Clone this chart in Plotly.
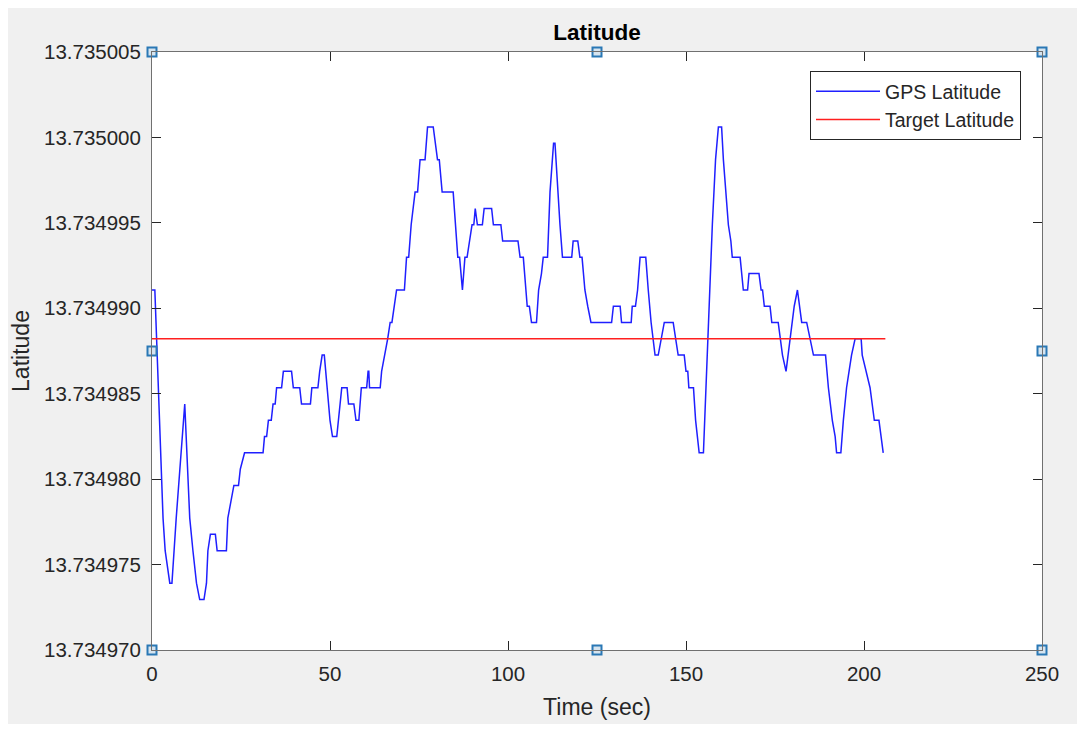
import plotly.graph_objects as go

# ---- data ----
time_sec = [0, 0.8, 3.1, 3.7, 5.0, 5.6, 6.2, 6.8, 9.2, 10.6, 11.5, 12.5, 13.4, 14.6, 15.3, 15.7, 16.4, 17.8, 18.3, 20.9,
            21.3, 22.1, 23.0, 24.3, 24.8, 26.0, 31.2, 31.6, 32.2, 32.7, 33.5, 34.0, 34.6, 35.0, 36.4, 36.9, 39.2, 39.7, 41.5, 42.0,
            44.5, 44.9, 46.6, 47.1, 47.8, 48.4, 50.0, 50.7, 51.9, 53.3, 54.8, 55.2, 56.7, 57.3, 58.1, 58.8, 60.3, 60.7, 60.9, 61.1,
            64.1, 64.5, 65.4, 66.2, 66.9, 67.4, 68.7, 70.9, 71.5, 72.1, 72.8, 73.9, 74.6, 75.3, 76.7, 77.4, 79.0, 79.7, 80.2, 80.7,
            81.5, 84.6, 85.9, 86.4, 87.2, 87.9, 88.5, 89.9, 90.4, 90.8, 91.4, 92.8, 93.3, 95.4, 95.9, 98.0, 98.5, 102.8, 103.4, 104.3,
            104.9, 105.4, 106.0, 106.6, 108.0, 108.6, 109.4, 109.9, 111.1, 111.8, 112.8, 113.2, 114.6, 115.3, 117.9, 118.3, 119.6, 120.2, 120.8, 121.6,
            122.4, 123.3, 129.1, 129.6, 131.5, 131.9, 134.6, 134.9, 135.8, 136.4, 137.1, 138.7, 139.4, 140.2, 141.3, 142.2, 143.9, 146.4, 147.1, 147.8,
            149.5, 150.0, 150.5, 150.8, 152.1, 152.7, 153.7, 154.9, 157.4, 158.3, 159.1, 160.0, 160.5, 161.9, 162.6, 163.0, 165.2, 166.1, 167.3, 167.7,
            170.5, 171.1, 171.5, 172.0, 173.6, 174.1, 175.9, 176.4, 177.1, 178.1, 178.7, 179.4, 180.4, 181.3, 181.8, 182.5, 183.9, 184.8, 185.8, 189.2,
            190.0, 191.1, 191.9, 192.3, 193.5, 194.2, 195.1, 195.8, 196.5, 197.5, 199.2, 199.5, 200.5, 201.7, 202.9, 204.2, 204.8, 205.4]

gps_lat = [13.73499107, 13.73499107, 13.73497772, 13.73497581, 13.73497391, 13.73497391, 13.73497581, 13.73497772, 13.73498440, 13.73497772,
           13.73497581, 13.73497391, 13.73497295, 13.73497295, 13.73497391, 13.73497581, 13.73497677, 13.73497677, 13.73497581, 13.73497581,
           13.73497772, 13.73497868, 13.73497963, 13.73497963, 13.73498058, 13.73498154, 13.73498154, 13.73498249, 13.73498249, 13.73498344,
           13.73498344, 13.73498440, 13.73498440, 13.73498535, 13.73498535, 13.73498631, 13.73498631, 13.73498535, 13.73498535, 13.73498440,
           13.73498440, 13.73498535, 13.73498535, 13.73498631, 13.73498726, 13.73498726, 13.73498344, 13.73498249, 13.73498249, 13.73498535,
           13.73498535, 13.73498440, 13.73498440, 13.73498344, 13.73498344, 13.73498535, 13.73498535, 13.73498631, 13.73498631, 13.73498535,
           13.73498535, 13.73498631, 13.73498726, 13.73498821, 13.73498917, 13.73498917, 13.73499107, 13.73499107, 13.73499298, 13.73499298,
           13.73499489, 13.73499680, 13.73499680, 13.73499870, 13.73499870, 13.73500061, 13.73500061, 13.73499966, 13.73499870, 13.73499870,
           13.73499680, 13.73499680, 13.73499298, 13.73499298, 13.73499107, 13.73499298, 13.73499298, 13.73499489, 13.73499489, 13.73499584,
           13.73499489, 13.73499489, 13.73499584, 13.73499584, 13.73499489, 13.73499489, 13.73499394, 13.73499394, 13.73499298, 13.73499298,
           13.73499107, 13.73499012, 13.73499012, 13.73498917, 13.73498917, 13.73499107, 13.73499203, 13.73499298, 13.73499298, 13.73499680,
           13.73499966, 13.73499966, 13.73499489, 13.73499298, 13.73499298, 13.73499394, 13.73499394, 13.73499298, 13.73499298, 13.73499107,
           13.73499012, 13.73498917, 13.73498917, 13.73499012, 13.73499012, 13.73498917, 13.73498917, 13.73499012, 13.73499012, 13.73499107,
           13.73499298, 13.73499298, 13.73499107, 13.73498917, 13.73498726, 13.73498726, 13.73498917, 13.73498917, 13.73498821, 13.73498726,
           13.73498726, 13.73498631, 13.73498631, 13.73498535, 13.73498535, 13.73498344, 13.73498154, 13.73498154, 13.73499489, 13.73499870,
           13.73500061, 13.73500061, 13.73499870, 13.73499489, 13.73499394, 13.73499298, 13.73499298, 13.73499107, 13.73499107, 13.73499203,
           13.73499203, 13.73499107, 13.73499107, 13.73499012, 13.73499012, 13.73498917, 13.73498917, 13.73498821, 13.73498726, 13.73498631,
           13.73498726, 13.73498821, 13.73499012, 13.73499107, 13.73499012, 13.73498917, 13.73498917, 13.73498821, 13.73498726, 13.73498726,
           13.73498535, 13.73498344, 13.73498249, 13.73498154, 13.73498154, 13.73498344, 13.73498535, 13.73498631, 13.73498726, 13.73498821,
           13.73498821, 13.73498726, 13.73498631, 13.73498535, 13.73498344, 13.73498344, 13.73498249, 13.73498154]

target_time = [0, 206]
target_lat = [13.73498821, 13.73498821]

x_ticks = [0, 50, 100, 150, 200, 250]
y_ticks = [13.734970, 13.734975, 13.734980, 13.734985, 13.734990, 13.734995, 13.735000, 13.735005]
x_range = [0, 250]
y_range = [13.734970, 13.735005]

FONT = "Liberation Sans, Arial, Helvetica, sans-serif"
DARK = "#262626"

fig = go.Figure()
fig.add_trace(go.Scatter(x=time_sec, y=gps_lat, mode="lines", name="GPS Latitude",
                         line=dict(color="#1f1fff", width=1.5)))
fig.add_trace(go.Scatter(x=target_time, y=target_lat, mode="lines", name="Target Latitude",
                         line=dict(color="#ff1f1f", width=1.5)))

# selection handles (corners and edge midpoints of the axes box)
xm = (x_range[0] + x_range[1]) / 2
ym = (y_range[0] + y_range[1]) / 2
hx = [x_range[0], xm, x_range[1], x_range[0], x_range[1], x_range[0], xm, x_range[1]]
hy = [y_range[1], y_range[1], y_range[1], ym, ym, y_range[0], y_range[0], y_range[0]]
fig.add_trace(go.Scatter(x=hx, y=hy, mode="markers", showlegend=False, cliponaxis=False, hoverinfo="skip",
                         marker=dict(symbol="square", size=9, color="#d6e4ef",
                                     line=dict(color="#2a78b5", width=2))))

# page body has an 8px margin: size the figure so that the page matches 1085x729
OFF = 8
W, H = 1085 - OFF, 729 - OFF
PL, PR, PT, PB = 152, 1042, 52, 650        # plot area in page pixels
L, R, T, B = PL - OFF, 1085 - PR, PT - OFF, 729 - PB
pw, ph = PR - PL, PB - PT

def px2paper_x(px):
    return (px - PL) / pw

def px2paper_y(py):
    return (PB - py) / ph

fig.update_layout(
    width=W, height=H,
    margin=dict(l=L, r=R, t=T, b=B),
    paper_bgcolor="white",
    plot_bgcolor="white",
    font=dict(family=FONT, size=20.5, color=DARK),
    showlegend=True,
    title=dict(text="<b>Latitude</b>", x=0.5, xref="paper", xanchor="center",
               y=1 - (32 - OFF) / H, yref="container", yanchor="middle",
               font=dict(family=FONT, size=22.5, color="#000000")),
    legend=dict(x=px2paper_x(1021), y=px2paper_y(71), xanchor="right", yanchor="top",
                bgcolor="white", bordercolor=DARK, borderwidth=1,
                font=dict(family=FONT, size=19.5, color=DARK),
                itemwidth=64, tracegroupgap=0),
    shapes=[
        dict(type="rect", xref="paper", yref="paper", layer="below",
             x0=px2paper_x(6), x1=px2paper_x(1080), y0=px2paper_y(724), y1=px2paper_y(5),
             fillcolor="#f0f0f0", line=dict(width=0)),
        dict(type="rect", xref="paper", yref="paper", layer="below",
             x0=0, x1=1, y0=0, y1=1, fillcolor="white", line=dict(width=0)),
    ],
)

fig.update_xaxes(range=x_range, tickvals=x_ticks, ticks="inside", ticklen=9, tickcolor=DARK,
                 showline=True, linecolor="#707070", linewidth=1, mirror="ticks",
                 showgrid=False, zeroline=False, ticklabelstandoff=5,
                 title=dict(text="Time (sec)", standoff=15, font=dict(size=23, color=DARK)))
fig.update_yaxes(range=y_range, tickvals=y_ticks, tickformat=".6f", ticks="inside", ticklen=9, tickcolor=DARK,
                 showline=True, linecolor="#707070", linewidth=1, mirror="ticks",
                 showgrid=False, zeroline=False, ticklabelstandoff=6,
                 title=dict(text="Latitude", standoff=7, font=dict(size=23, color=DARK)))

fig.write_html("out.html")
